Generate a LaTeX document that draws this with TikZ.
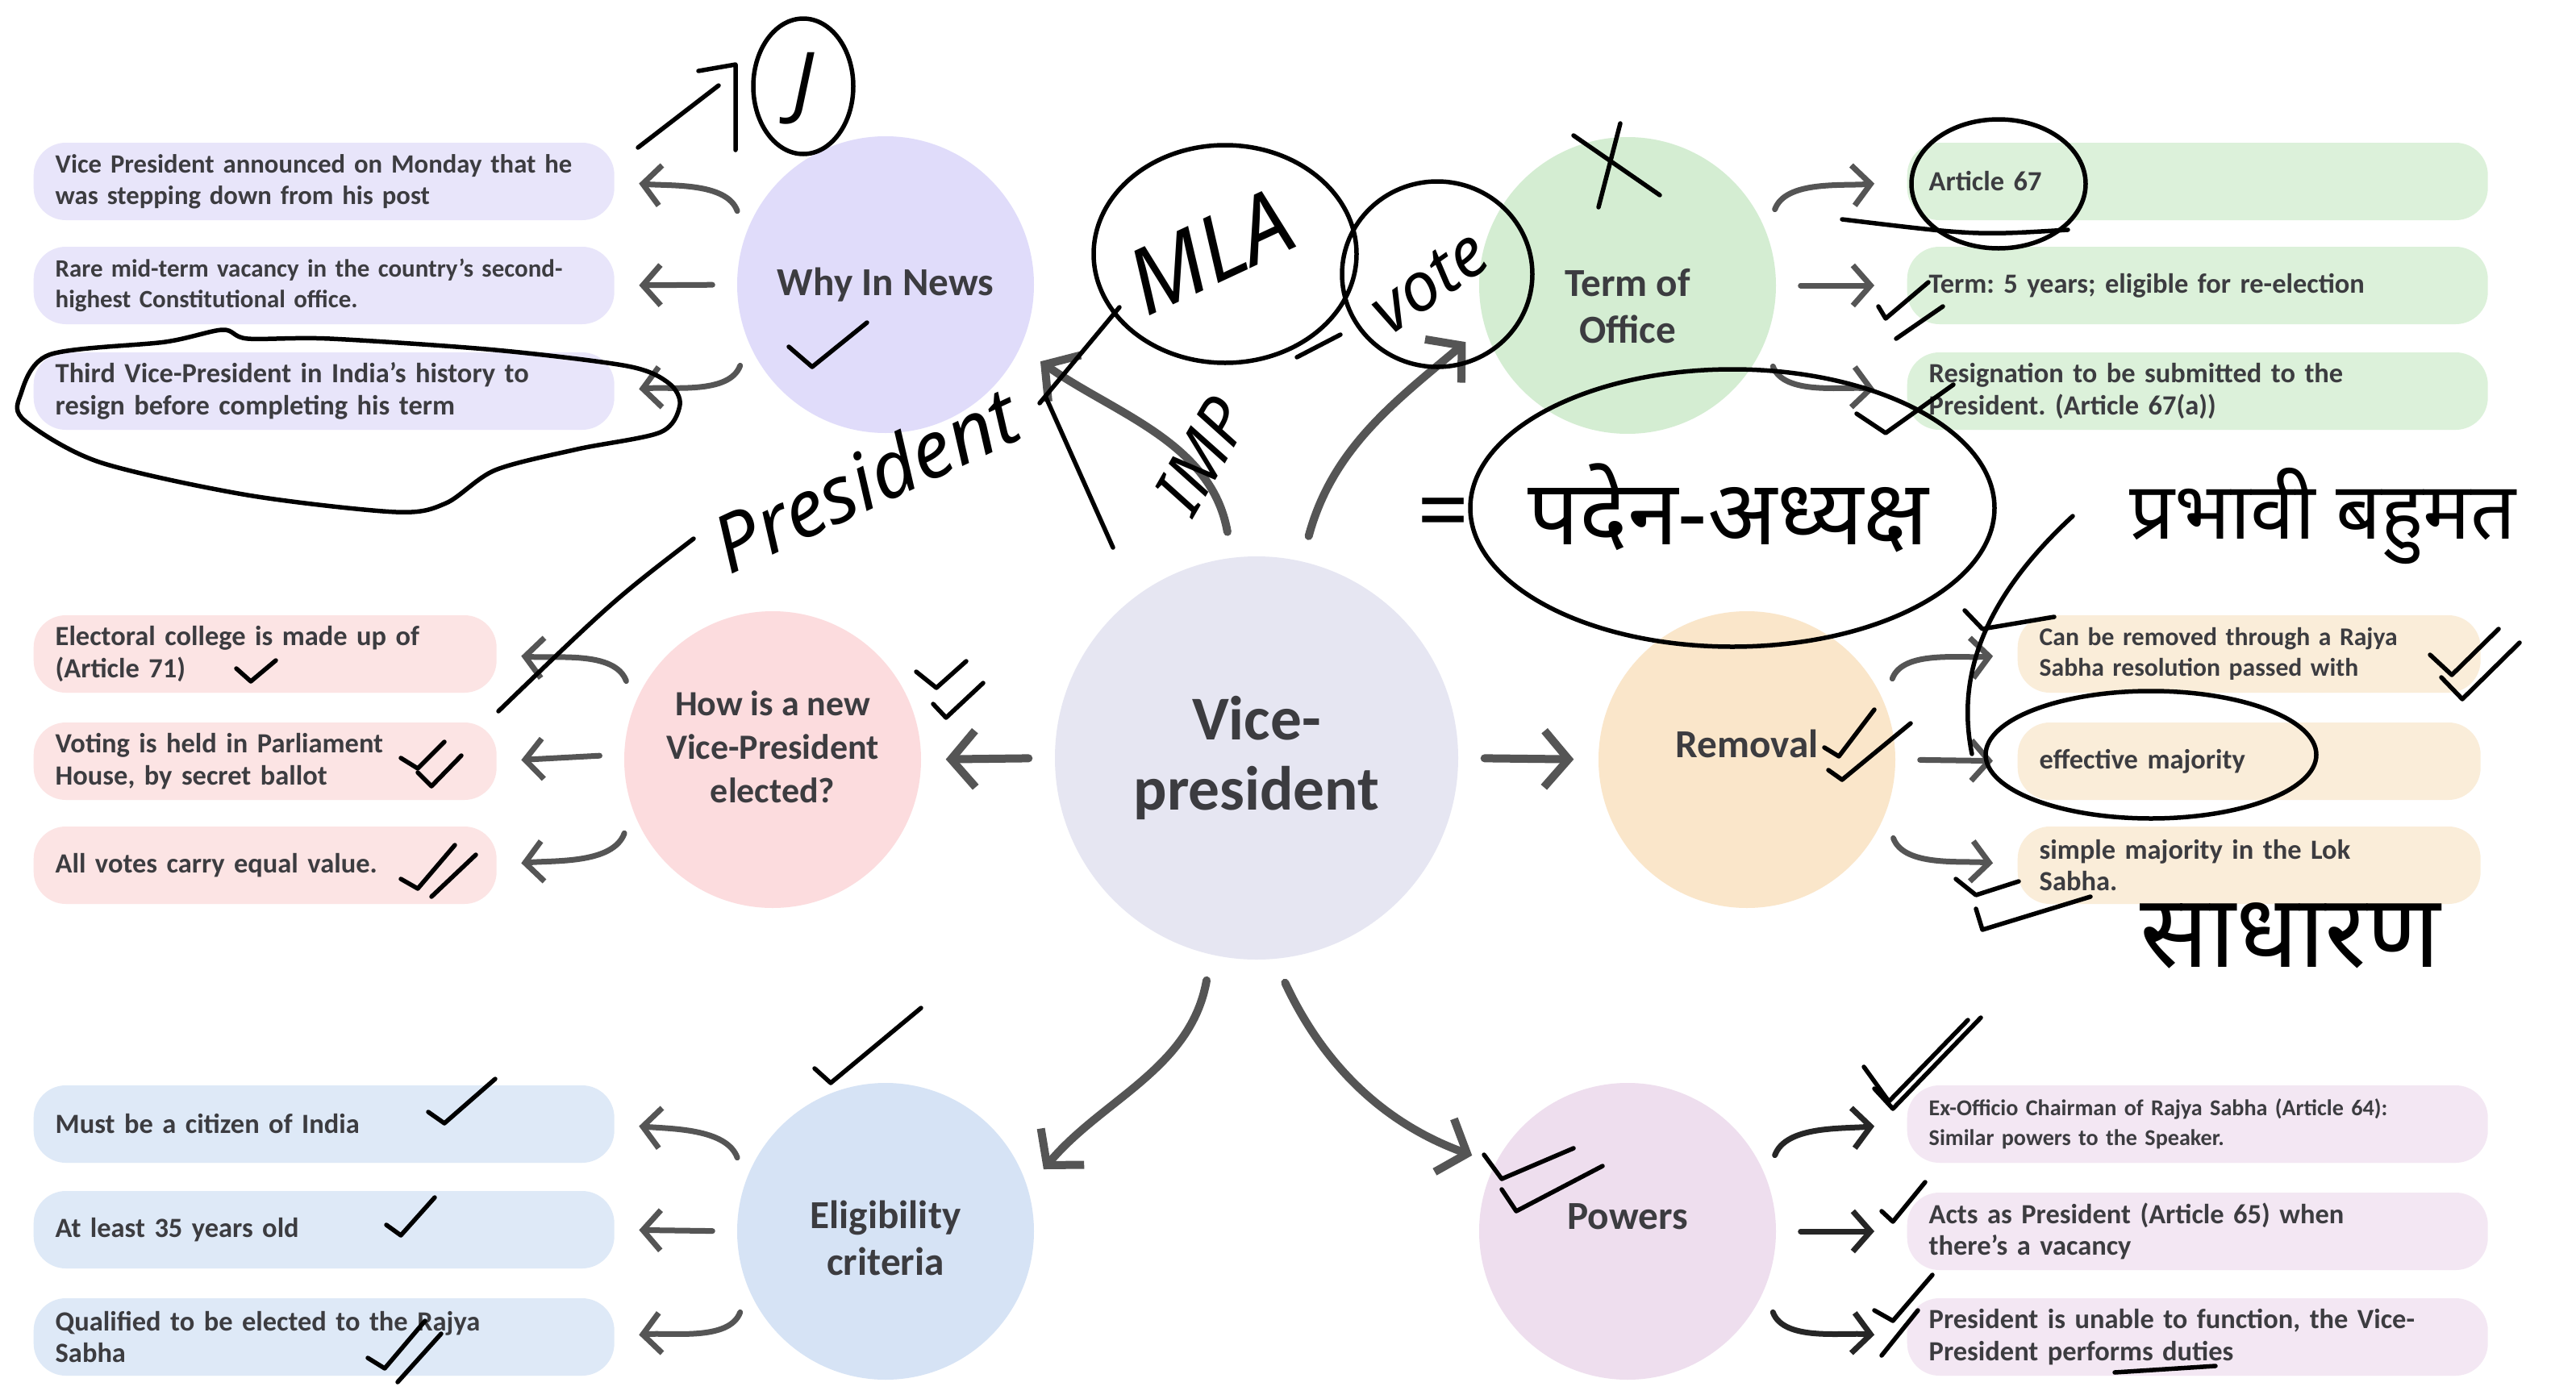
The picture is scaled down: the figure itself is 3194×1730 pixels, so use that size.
\documentclass[tikz,border=0pt]{standalone}
\usepackage{fontspec}
\setmainfont{Carlito}
\newfontfamily\deva[Script=Devanagari]{Noto Sans}
\usetikzlibrary{arrows.meta}
\frenchspacing

\definecolor{inkgray}{RGB}{60,60,64}
\definecolor{limbgray}{RGB}{85,85,85}
\definecolor{hubfill}{RGB}{230,230,242}
\definecolor{whyfill}{RGB}{224,220,250}
\definecolor{whyleaf}{RGB}{232,229,250}
\definecolor{termfill}{RGB}{212,237,210}
\definecolor{termleaf}{RGB}{220,241,218}
\definecolor{electfill}{RGB}{252,220,222}
\definecolor{electleaf}{RGB}{252,228,228}
\definecolor{remfill}{RGB}{250,230,202}
\definecolor{remleaf}{RGB}{250,237,217}
\definecolor{eligfill}{RGB}{214,227,245}
\definecolor{eligleaf}{RGB}{222,233,247}
\definecolor{powfill}{RGB}{238,222,238}
\definecolor{powleaf}{RGB}{243,231,243}

\tikzset{
  hub/.style={circle, fill=hubfill, minimum size=50mm, inner sep=0pt, align=center,
    text=inkgray, font=\bfseries\fontsize{22}{25}\selectfont},
  topic/.style={circle, minimum size=36.8mm, inner sep=0pt},
  topiclabel/.style={align=center, inner sep=0pt, text=inkgray,
    font=\bfseries\fontsize{14}{16.5}\selectfont},
  leaf/.style={rounded corners=4mm, minimum height=9.6mm, inner xsep=2.7mm, inner ysep=1mm,
    align=left, anchor=west, text=inkgray, font=\bfseries\fontsize{9.8}{11.2}\selectfont},
  wideleaf/.style={leaf, text width=66.6mm},
  shortleaf/.style={leaf, text width=52mm},
  limb/.style={draw=limbgray, line width=1mm, line cap=round,
    -{Straight Barb[length=3mm,width=7mm,line width=1mm]},
    shorten <=3.2mm, shorten >=3mm},
  twig/.style={draw=limbgray, line width=0.7mm, line cap=round,
    -{Straight Barb[length=2.2mm,width=5mm,line width=0.7mm]},
    shorten <=3mm, shorten >=3mm},
  pen/.style={draw=black, line width=0.55mm, line cap=round, line join=round},
  scrawl/.style={text=black, inner sep=0pt, font=\deva\itshape\fontsize{28}{28}\selectfont},
  devascrawl/.style={text=black, inner sep=0pt, font=\deva\fontsize{32}{32}\selectfont}
}

\begin{document}
\begin{tikzpicture}[x=0.1mm,y=0.1mm]
  \useasboundingbox (0,0) rectangle (3194,-1730);
  \fill[white] (0,0) rectangle (3194,-1730);

  % centre and topics
  \node[hub] (vp) at (1558,-940) {Vice-\\president};
  \node[topic, fill=whyfill] (why) at (1098,-353) {};
  \node[topic, fill=termfill] (term) at (2018,-354) {};
  \node[topic, fill=electfill] (elect) at (958,-942) {};
  \node[topic, fill=remfill] (rem) at (2166,-942) {};
  \node[topic, fill=eligfill] (elig) at (1098,-1527) {};
  \node[topic, fill=powfill] (pow) at (2018,-1527) {};
  \node[topiclabel] (whytext) at (why) {Why In News};
  \node[topiclabel] (termtext) at ([yshift=-2.6mm]term.center) {Term of\\Office};
  \node[topiclabel, font=\bfseries\fontsize{12.5}{15.4}\selectfont] (electtext) at ([yshift=1.6mm]elect.center) {How is a new\\Vice-President\\elected?};
  \node[topiclabel] (remtext) at ([yshift=2mm]rem.center) {Removal};
  \node[topiclabel] (eligtext) at ([yshift=-0.8mm]elig.center) {Eligibility\\criteria};
  \node[topiclabel] (powtext) at ([yshift=1.8mm]pow.center) {Powers};

  % leaves
  \node[wideleaf, fill=whyleaf, font=\bfseries\fontsize{9.3}{11.2}\selectfont] (why1) at (41,-225) {Vice President announced on Monday that he\\was stepping down from his post};
  \node[wideleaf, fill=whyleaf, font=\bfseries\fontsize{8.8}{11}\selectfont] (why2) at (41,-354) {Rare mid-term vacancy in the country's second-\\highest Constitutional office.};
  \node[wideleaf, fill=whyleaf] (why3) at (41,-485) {Third Vice-President in India's history to\\resign before completing his term};

  \node[wideleaf, fill=termleaf] (term1) at (2364,-225) {Article 67};
  \node[wideleaf, fill=termleaf] (term2) at (2364,-354) {Term: 5 years; eligible for re-election};
  \node[wideleaf, fill=termleaf] (term3) at (2364,-485) {Resignation to be submitted to the\\President. (Article 67(a))};

  \node[shortleaf, fill=electleaf] (elect1) at (41,-811) {Electoral college is made up of\\(Article 71)};
  \node[shortleaf, fill=electleaf] (elect2) at (41,-944) {Voting is held in Parliament\\House, by secret ballot};
  \node[shortleaf, fill=electleaf] (elect3) at (41,-1073) {All votes carry equal value.};

  \node[shortleaf, fill=remleaf, font=\bfseries\fontsize{9}{11}\selectfont] (rem1) at (2501,-811) {Can be removed through a Rajya\\Sabha resolution passed with};
  \node[shortleaf, fill=remleaf] (rem2) at (2501,-944) {effective majority};
  \node[shortleaf, fill=remleaf] (rem3) at (2501,-1073) {simple majority in the Lok\\Sabha.};

  \node[wideleaf, fill=eligleaf] (elig1) at (41,-1394) {Must be a citizen of India};
  \node[wideleaf, fill=eligleaf] (elig2) at (41,-1525) {At least 35 years old};
  \node[wideleaf, fill=eligleaf] (elig3) at (41,-1658) {Qualified to be elected to the Rajya\\Sabha};

  \node[wideleaf, fill=powleaf, font=\bfseries\fontsize{8}{10.5}\selectfont] (pow1) at (2364,-1394) {Ex-Officio Chairman of Rajya Sabha (Article 64):\\Similar powers to the Speaker.};
  \node[wideleaf, fill=powleaf] (pow2) at (2364,-1527) {Acts as President (Article 65) when\\there's a vacancy};
  \node[wideleaf, fill=powleaf] (pow3) at (2364,-1658) {President is unable to function, the Vice-\\President performs duties};

  % centre to topics
  \draw[limb] (vp.97) to[out=100,in=-35] (why.-25);
  \draw[limb] (vp.77) to[out=75,in=-140] (term.196);
  \draw[limb] (vp.180) -- (elect.0);
  \draw[limb] (vp.0) -- (rem.180);
  \draw[limb] (vp.-103) to[out=-100,in=50] (elig.17);
  \draw[limb] (vp.-85) to[out=-65,in=160] (pow.153);

  % topics to leaves
  \draw[twig] (why.160) to[out=110,in=-5] (why1.east);
  \draw[twig] (why.180) -- (why2.east);
  \draw[twig] (why.203) to[out=-110,in=5] (why3.east);
  \draw[twig] (term.21) to[out=70,in=185] ([xshift=-1mm]term1.west);
  \draw[twig] (term.0) -- ([xshift=-1mm]term2.west);
  \draw[twig] (term.-23) to[out=-70,in=175] ([xshift=-1mm]term3.west);
  \draw[twig] (elect.158) to[out=110,in=-5] (elect1.east);
  \draw[twig] (elect.178) -- (elect2.east);
  \draw[twig] (elect.200) to[out=-110,in=5] (elect3.east);
  \draw[twig] (rem.23) to[out=70,in=185] (rem1.west);
  \draw[twig] (rem.0) -- (rem2.west);
  \draw[twig] (rem.-22) to[out=-70,in=175] (rem3.west);
  \draw[twig] (elig.160) to[out=110,in=-5] (elig1.east);
  \draw[twig] (elig.180) -- (elig2.east);
  \draw[twig] (elig.203) to[out=-110,in=5] (elig3.east);
  \draw[twig, draw=black!85] (pow.21) to[out=70,in=185] ([xshift=-1mm]pow1.west);
  \draw[twig, draw=black!85] (pow.0) -- ([xshift=-1mm]pow2.west);
  \draw[twig, draw=black!85] (pow.-23) to[out=-70,in=175] ([xshift=-1mm]pow3.west);

  % pen notes
  \draw[pen] (791,-183) -- (891,-106);
  \draw[pen] (866,-88) -- (912,-80) -- (912,-186);
  \draw[pen] (996,-107) ellipse [x radius=62, y radius=84];
  \node[scrawl] (jay) at (996,-110) {J};
  \draw[pen] plot[smooth cycle] coordinates {(25,-491) (61,-440) (205,-424) (276,-409) (307,-420) (409,-420) (614,-434) (778,-454) (829,-475) (843,-502) (819,-536) (716,-557) (614,-583) (553,-624) (491,-635) (307,-614) (123,-573) (31,-522)};
  \node[scrawl, rotate=25] (pres) at (1073,-594) {President};
  \draw[pen] (618,-882) .. controls (760,-745) .. (860,-668);
  \draw[pen] (1289,-500) -- (1388,-381);
  \draw[pen] (1297,-493) -- (1380,-679);
  \draw[pen] (1519,-315) ellipse [x radius=163, y radius=135];
  \node[scrawl, rotate=25, font=\deva\itshape\fontsize{32}{32}\selectfont] (mla) at (1500,-312) {MLA};
  \draw[pen] (1782,-340) ellipse [x radius=118, y radius=115];
  \node[scrawl, rotate=35, font=\deva\itshape\fontsize{24}{24}\selectfont] (vote) at (1772,-350) {vote};
  \draw[pen] (1608,-443) -- (1662,-415);
  \node[scrawl, rotate=60, font=\deva\itshape\fontsize{24}{24}\selectfont] (imp) at (1490,-565) {IMP};
  \draw[pen] (1951,-168) -- (2058,-242);
  \draw[pen] (2009,-153) -- (1982,-257);
  \draw[pen] (2478,-228) ellipse [x radius=108, y radius=80];
  \draw[pen] (2284,-272) .. controls (2450,-292) .. (2564,-285);
  \draw[pen] (2148,-630) ellipse [x radius=325, y radius=172];
  \node[devascrawl] (padena) at (2143,-630) {पदेन-अध्यक्ष};
  \node[devascrawl] (equals) at (1790,-645) {=};
  \node[devascrawl, font=\deva\fontsize{28}{28}\selectfont] (prabhavi) at (2880,-640) {प्रभावी बहुमत};
  \draw[pen] (2570,-640) .. controls (2440,-760) and (2430,-860) .. (2445,-935);
  \draw[pen] (2667,-936) ellipse [x radius=205, y radius=79];
  \node[devascrawl, font=\deva\fontsize{36}{36}\selectfont] (sadharan) at (2840,-1160) {साधारण};

  % ticks
  \draw[pen] (978,-430) -- (1007,-455) -- (1075,-400);
  \draw[pen] (2329,-380) -- (2338,-395) -- (2391,-350);
  \draw[pen] (2351,-420) -- (2409,-380);
  \draw[pen] (2302,-513) -- (2338,-537) -- (2422,-477);
  \draw[pen] (293,-829) -- (311,-845) -- (342,-819);
  \draw[pen] (497,-940) -- (518,-953) -- (551,-920);
  \draw[pen] (518,-958) -- (535,-975) -- (572,-937);
  \draw[pen] (497,-1090) -- (518,-1102) -- (564,-1048);
  \draw[pen] (535,-1112) -- (590,-1060);
  \draw[pen] (1136,-833) -- (1161,-853) -- (1198,-820);
  \draw[pen] (1157,-873) -- (1173,-890) -- (1219,-847);
  \draw[pen] (531,-1379) -- (551,-1393) -- (614,-1338);
  \draw[pen] (479,-1519) -- (497,-1532) -- (539,-1485);
  \draw[pen] (456,-1684) -- (477,-1697) -- (527,-1638);
  \draw[pen] (493,-1714) -- (547,-1654);
  \draw[pen] (1010,-1325) -- (1030,-1343) -- (1142,-1250);
  \draw[pen] (1840,-1432) -- (1862,-1462) -- (1951,-1424);
  \draw[pen] (1862,-1475) -- (1880,-1502) -- (1987,-1446);
  \draw[pen] (2311,-1323) -- (2342,-1366) -- (2440,-1265);
  \draw[pen] (2324,-1350) -- (2347,-1375) -- (2456,-1262);
  \draw[pen] (2333,-1502) -- (2347,-1515) -- (2387,-1466);
  \draw[pen] (2324,-1625) -- (2347,-1638) -- (2396,-1581);
  \draw[pen] (2333,-1681) -- (2378,-1625);
  \draw[pen] (2622,-1702) -- (2747,-1694);
  \draw[pen] (2262,-927) -- (2280,-938) -- (2324,-880);
  \draw[pen] (2267,-955) -- (2284,-967) -- (2369,-897);
  \draw[pen] (3013,-812) -- (3040,-837) -- (3098,-780);
  \draw[pen] (3027,-840) -- (3053,-867) -- (3124,-797);
  \draw[pen] (2436,-757) -- (2458,-780) -- (2547,-765);
  \draw[pen] (2425,-1090) -- (2450,-1110) -- (2503,-1093);
  \draw[pen] (2450,-1127) -- (2458,-1153) -- (2592,-1112);
\end{tikzpicture}
\end{document}
